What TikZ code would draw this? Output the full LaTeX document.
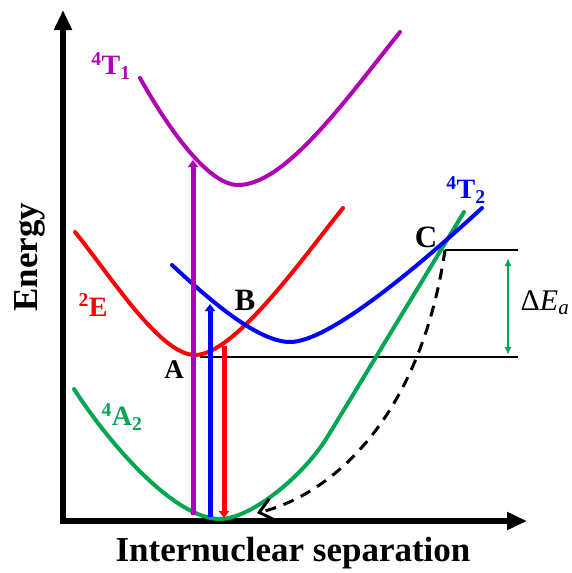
\documentclass[tikz,border=0pt]{standalone}
\usepackage{fontspec}
\setmainfont{Liberation Serif}
\usetikzlibrary{arrows.meta}
\definecolor{morado}{HTML}{B000B4}
\definecolor{verde}{HTML}{00A651}
\definecolor{rojo}{HTML}{FF0000}
\definecolor{azul}{HTML}{0000FF}

\tikzset{
  axisline/.style={line width=6pt,-{Triangle[length=20pt,width=17pt]}},
  pes/.style={line width=4pt,line cap=round},
  trans/.style={line width=5pt,-{Triangle[length=7pt,width=10pt]}},
  level/.style={line width=2pt},
  statelbl/.style={font=\fontsize{28}{32}\selectfont\bfseries,inner sep=0pt},
  pointlbl/.style={font=\fontsize{31}{34}\selectfont\bfseries,inner sep=0pt},
  axislbl/.style={font=\fontsize{35}{40}\selectfont\bfseries,inner sep=0pt},
}

\begin{document}
\begin{tikzpicture}[x=1pt,y=-1pt]
\useasboundingbox (0,0) rectangle (571,573);

% axes
\coordinate (orig) at (63,521);
\coordinate (ytip) at (63,10);
\coordinate (xtip) at (527,521);
\draw[axisline] ([yshift=-3pt]orig) -- (ytip);
\draw[axisline] ([xshift=-3pt]orig) -- (xtip);

% levels
\coordinate (lvlA) at (200,357);
\coordinate (lvlAend) at (518,357);
\coordinate (lvlC) at (445,250);
\coordinate (lvlCend) at (518,250);
\draw[level] (lvlA) -- (lvlAend);
\draw[level] (lvlC) -- (lvlCend);

% potential curves
\draw[pes,verde] (74,389) .. controls (110,445) and (175,519) .. (220,519)
  .. controls (250,519) and (303,477) .. (328,436) -- (464,212);
\draw[pes,rojo] (75,232) .. controls (110,275) and (160,355) .. (195,355)
  .. controls (235,355) and (305,255) .. (343,208);
\draw[pes,azul] (172,265) .. controls (200,291) and (255,342) .. (290,342)
  .. controls (330,342) and (422,263) .. (482,208);
\draw[pes,morado] (140,78) .. controls (168,128) and (208,185) .. (238,185)
  .. controls (285,185) and (345,101) .. (400,32);

% transitions
\coordinate (absTb) at (193,515);
\coordinate (absTt) at (193,160);
\coordinate (absBb) at (210,517);
\coordinate (absBt) at (210,304);
\coordinate (emiT) at (224,346);
\coordinate (emiB) at (224,518);
\draw[trans,morado] (absTb) -- (absTt);
\draw[trans,azul] (absBb) -- (absBt);
\draw[trans,rojo] (emiT) -- (emiB);

% crossover relaxation
\coordinate (dashEnd) at (257,513);
\draw[line width=3pt,dash pattern=on 11pt off 8pt,-{Straight Barb[length=13pt,width=22pt]}]
  (lvlC) .. controls (420,420) and (330,495) .. (dashEnd);

% activation energy
\coordinate (eaTop) at (508,258);
\coordinate (eaBot) at (508,355);
\draw[verde,line width=2pt,{Latex[length=8pt,width=7pt]}-{Latex[length=8pt,width=7pt]}] (eaTop) -- (eaBot);
\node[font=\fontsize{30}{32}\selectfont,inner sep=0pt] (ea) at (545,303) {Δ\textit{E}\textsubscript{\textit{a}}};

% labels
\node[statelbl,morado] (tone) at (111,66) {\textsuperscript{4}T\textsubscript{1}};
\node[statelbl,rojo] (etwo) at (93,305) {\textsuperscript{2}E};
\node[statelbl,verde] (atwo) at (122,417) {\textsuperscript{4}A\textsubscript{2}};
\node[statelbl,azul] (ttwo) at (466,190) {\textsuperscript{4}T\textsubscript{2}};
\node[pointlbl,font=\fontsize{27}{30}\selectfont\bfseries] (ptA) at (174,370) {A};
\node[pointlbl] (ptB) at (245,300) {B};
\node[pointlbl] (ptC) at (426,237) {C};
\node[axislbl,anchor=base] (xlbl) at (293,561) {Internuclear separation};
\node[axislbl,anchor=base,rotate=90] (ylbl) at (37,257) {Energy};
\end{tikzpicture}
\end{document}
